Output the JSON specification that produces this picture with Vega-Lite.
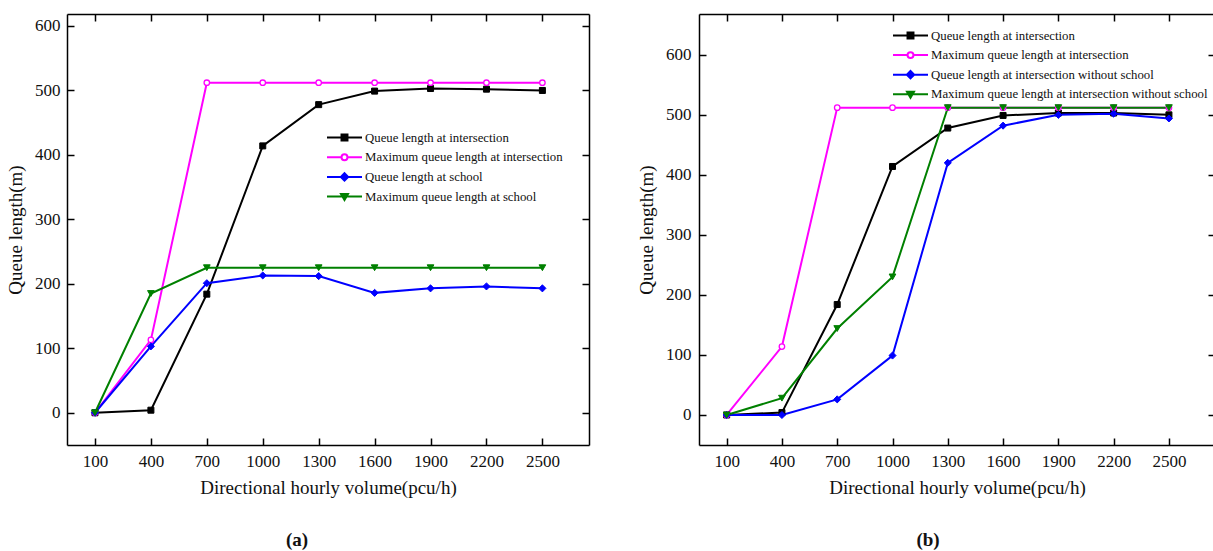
{
  "$schema": "https://vega.github.io/schema/vega-lite/v6.json",
  "padding": {"left": 6, "top": 13, "right": 0, "bottom": 0},
  "background": "white",
  "spacing": 110,
  "bounds": "flush",
  "resolve": {"scale": {"color": "independent"}, "legend": {"color": "independent"}},
  "config": {
    "font": "Liberation Serif",
    "view": {"stroke": null},
    "axis": {
      "domainColor": "black", "domainWidth": 1.5,
      "tickColor": "black", "tickWidth": 1.5, "tickSize": -7,
      "grid": false, "format": "d",
      "labelFont": "Liberation Serif", "labelFontSize": 17, "labelColor": "#111111",
      "titleFont": "Liberation Serif", "titleFontSize": 19, "titleFontWeight": "normal", "titleColor": "#111111"
    },
    "legend": {
      "labelFont": "Liberation Serif", "labelFontSize": 12.8, "labelColor": "#111111", "labelLimit": 0,
      "padding": 0, "labelOffset": 2, "symbolSize": 1225, "symbolStrokeWidth": 2, "clipHeight": 13
    },
    "title": {"font": "Liberation Serif", "fontSize": 19, "color": "#111111"}
  },
  "datasets": {
    "a": [
      {"vol": 100, "len": 0, "series": "Queue length at intersection"},
      {"vol": 400, "len": 4, "series": "Queue length at intersection"},
      {"vol": 700, "len": 184, "series": "Queue length at intersection"},
      {"vol": 1000, "len": 414, "series": "Queue length at intersection"},
      {"vol": 1300, "len": 478, "series": "Queue length at intersection"},
      {"vol": 1600, "len": 499, "series": "Queue length at intersection"},
      {"vol": 1900, "len": 503, "series": "Queue length at intersection"},
      {"vol": 2200, "len": 502, "series": "Queue length at intersection"},
      {"vol": 2500, "len": 500, "series": "Queue length at intersection"},
      {"vol": 100, "len": 0, "series": "Maximum queue length at intersection"},
      {"vol": 400, "len": 113, "series": "Maximum queue length at intersection"},
      {"vol": 700, "len": 512, "series": "Maximum queue length at intersection"},
      {"vol": 1000, "len": 512, "series": "Maximum queue length at intersection"},
      {"vol": 1300, "len": 512, "series": "Maximum queue length at intersection"},
      {"vol": 1600, "len": 512, "series": "Maximum queue length at intersection"},
      {"vol": 1900, "len": 512, "series": "Maximum queue length at intersection"},
      {"vol": 2200, "len": 512, "series": "Maximum queue length at intersection"},
      {"vol": 2500, "len": 512, "series": "Maximum queue length at intersection"},
      {"vol": 100, "len": 0, "series": "Queue length at school"},
      {"vol": 400, "len": 103, "series": "Queue length at school"},
      {"vol": 700, "len": 201, "series": "Queue length at school"},
      {"vol": 1000, "len": 213, "series": "Queue length at school"},
      {"vol": 1300, "len": 212, "series": "Queue length at school"},
      {"vol": 1600, "len": 186, "series": "Queue length at school"},
      {"vol": 1900, "len": 193, "series": "Queue length at school"},
      {"vol": 2200, "len": 196, "series": "Queue length at school"},
      {"vol": 2500, "len": 193, "series": "Queue length at school"},
      {"vol": 100, "len": 0, "series": "Maximum queue length at school"},
      {"vol": 400, "len": 185, "series": "Maximum queue length at school"},
      {"vol": 700, "len": 225, "series": "Maximum queue length at school"},
      {"vol": 1000, "len": 225, "series": "Maximum queue length at school"},
      {"vol": 1300, "len": 225, "series": "Maximum queue length at school"},
      {"vol": 1600, "len": 225, "series": "Maximum queue length at school"},
      {"vol": 1900, "len": 225, "series": "Maximum queue length at school"},
      {"vol": 2200, "len": 225, "series": "Maximum queue length at school"},
      {"vol": 2500, "len": 225, "series": "Maximum queue length at school"}
    ],
    "b": [
      {"vol": 100, "len": 0, "series": "Queue length at intersection"},
      {"vol": 400, "len": 4, "series": "Queue length at intersection"},
      {"vol": 700, "len": 184, "series": "Queue length at intersection"},
      {"vol": 1000, "len": 414, "series": "Queue length at intersection"},
      {"vol": 1300, "len": 478, "series": "Queue length at intersection"},
      {"vol": 1600, "len": 499, "series": "Queue length at intersection"},
      {"vol": 1900, "len": 503, "series": "Queue length at intersection"},
      {"vol": 2200, "len": 503, "series": "Queue length at intersection"},
      {"vol": 2500, "len": 500, "series": "Queue length at intersection"},
      {"vol": 100, "len": 0, "series": "Maximum queue length at intersection"},
      {"vol": 400, "len": 114, "series": "Maximum queue length at intersection"},
      {"vol": 700, "len": 512, "series": "Maximum queue length at intersection"},
      {"vol": 1000, "len": 512, "series": "Maximum queue length at intersection"},
      {"vol": 1300, "len": 512, "series": "Maximum queue length at intersection"},
      {"vol": 1600, "len": 512, "series": "Maximum queue length at intersection"},
      {"vol": 1900, "len": 512, "series": "Maximum queue length at intersection"},
      {"vol": 2200, "len": 512, "series": "Maximum queue length at intersection"},
      {"vol": 2500, "len": 512, "series": "Maximum queue length at intersection"},
      {"vol": 100, "len": 0, "series": "Queue length at intersection without school"},
      {"vol": 400, "len": 0, "series": "Queue length at intersection without school"},
      {"vol": 700, "len": 26, "series": "Queue length at intersection without school"},
      {"vol": 1000, "len": 99, "series": "Queue length at intersection without school"},
      {"vol": 1300, "len": 420, "series": "Queue length at intersection without school"},
      {"vol": 1600, "len": 482, "series": "Queue length at intersection without school"},
      {"vol": 1900, "len": 500, "series": "Queue length at intersection without school"},
      {"vol": 2200, "len": 502, "series": "Queue length at intersection without school"},
      {"vol": 2500, "len": 494, "series": "Queue length at intersection without school"},
      {"vol": 100, "len": 0, "series": "Maximum queue length at intersection without school"},
      {"vol": 400, "len": 28, "series": "Maximum queue length at intersection without school"},
      {"vol": 700, "len": 144, "series": "Maximum queue length at intersection without school"},
      {"vol": 1000, "len": 230, "series": "Maximum queue length at intersection without school"},
      {"vol": 1300, "len": 512, "series": "Maximum queue length at intersection without school"},
      {"vol": 1600, "len": 512, "series": "Maximum queue length at intersection without school"},
      {"vol": 1900, "len": 512, "series": "Maximum queue length at intersection without school"},
      {"vol": 2200, "len": 512, "series": "Maximum queue length at intersection without school"},
      {"vol": 2500, "len": 512, "series": "Maximum queue length at intersection without school"}
    ]
  },
  "hconcat": [
    {
      "width": 522, "height": 431,
      "data": {"name": "a"},
      "title": {"text": "(a)", "orient": "bottom", "offset": 34, "dx": -31, "fontWeight": "bold"},
      "encoding": {
        "x": {"field": "vol", "type": "quantitative", "scale": {"domain": [-50, 2750], "nice": false, "zero": false}, "axis": null},
        "y": {"field": "len", "type": "quantitative", "scale": {"domain": [-50, 618.6], "nice": false, "zero": false}, "axis": null}
      },
      "layer": [
        {
          "mark": {"type": "line", "strokeWidth": 2},
          "encoding": {
            "x": {"field": "vol", "type": "quantitative",
                  "axis": {"orient": "bottom", "values": [100, 400, 700, 1000, 1300, 1600, 1900, 2200, 2500], "title": "Directional hourly volume(pcu/h)", "labelPadding": 15, "titlePadding": 9}},
            "y": {"field": "len", "type": "quantitative",
                  "axis": {"orient": "left", "values": [0, 100, 200, 300, 400, 500, 600], "title": "Queue length(m)", "labelPadding": 14, "titlePadding": 9}},
            "color": {"field": "series", "type": "nominal",
                      "scale": {"domain": ["Queue length at intersection", "Maximum queue length at intersection", "Queue length at school", "Maximum queue length at school"], "range": ["#000000", "#ff00ff", "#0000ff", "#008000"]},
                      "legend": {"orient": "none", "legendX": 259, "legendY": 117, "title": null, "rowPadding": 5.7,
                                 "symbolType": {"expr": "['M-1,0L1,0M-0.17,-0.17L0.17,-0.17L0.17,0.17L-0.17,0.17Z','M-1,0L-0.17,0M0.17,0A0.17,0.17,0,1,1,-0.17,0A0.17,0.17,0,1,1,0.17,0M0.17,0L1,0','M-1,0L1,0M0,-0.21L0.21,0L0,0.21L-0.21,0Z','M-1,0L1,0M-0.2,-0.15L0.2,-0.15L0,0.2Z'][datum.index]"},
                                 "symbolFillColor": {"expr": "['#000000','#ffffff','#0000ff','#008000'][datum.index]"}}}
          }
        },
        {
          "transform": [{"filter": "datum.series == 'Queue length at intersection'"}],
          "mark": {"type": "point", "shape": "square", "size": 36, "filled": true, "fill": "#000000", "stroke": "#000000", "strokeWidth": 1, "opacity": 1}
        },
        {
          "transform": [{"filter": "datum.series == 'Maximum queue length at intersection'"}],
          "mark": {"type": "point", "shape": "circle", "size": 30, "filled": true, "fill": "#ffffff", "stroke": "#ff00ff", "strokeWidth": 1.3, "opacity": 1}
        },
        {
          "transform": [{"filter": "datum.series == 'Queue length at school'"}],
          "mark": {"type": "point", "shape": "diamond", "size": 50, "filled": true, "fill": "#0000ff", "stroke": "#0000ff", "strokeWidth": 1, "opacity": 1}
        },
        {
          "transform": [{"filter": "datum.series == 'Maximum queue length at school'"}],
          "mark": {"type": "point", "shape": "triangle-down", "size": 45, "filled": true, "fill": "#008000", "stroke": "#008000", "strokeWidth": 1, "opacity": 1}
        },
        {
          "mark": {"type": "point", "opacity": 0},
          "encoding": {
            "x": {"field": "vol", "type": "quantitative", "axis": {"orient": "top", "values": [100, 400, 700, 1000, 1300, 1600, 1900, 2200, 2500], "labels": false, "title": null}},
            "y": {"field": "len", "type": "quantitative", "axis": {"orient": "right", "values": [0, 100, 200, 300, 400, 500, 600], "labels": false, "title": null}}
          }
        }
      ],
      "resolve": {"axis": {"x": "independent", "y": "independent"}}
    },
    {
      "width": 516, "height": 431,
      "data": {"name": "b"},
      "title": {"text": "(b)", "orient": "bottom", "offset": 34, "dx": -29, "fontWeight": "bold"},
      "encoding": {
        "x": {"field": "vol", "type": "quantitative", "scale": {"domain": [-50, 2750], "nice": false, "zero": false}, "axis": null},
        "y": {"field": "len", "type": "quantitative", "scale": {"domain": [-50, 668], "nice": false, "zero": false}, "axis": null}
      },
      "layer": [
        {
          "mark": {"type": "line", "strokeWidth": 2},
          "encoding": {
            "x": {"field": "vol", "type": "quantitative",
                  "axis": {"orient": "bottom", "values": [100, 400, 700, 1000, 1300, 1600, 1900, 2200, 2500], "title": "Directional hourly volume(pcu/h)", "labelPadding": 15, "titlePadding": 9}},
            "y": {"field": "len", "type": "quantitative",
                  "axis": {"orient": "left", "values": [0, 100, 200, 300, 400, 500, 600], "title": "Queue length(m)", "labelPadding": 15, "titlePadding": 9}},
            "color": {"field": "series", "type": "nominal",
                      "scale": {"domain": ["Queue length at intersection", "Maximum queue length at intersection", "Queue length at intersection without school", "Maximum queue length at intersection without school"], "range": ["#000000", "#ff00ff", "#0000ff", "#008000"]},
                      "legend": {"orient": "none", "legendX": 193, "legendY": 15, "title": null, "rowPadding": 5.6,
                                 "symbolType": {"expr": "['M-1,0L1,0M-0.17,-0.17L0.17,-0.17L0.17,0.17L-0.17,0.17Z','M-1,0L-0.17,0M0.17,0A0.17,0.17,0,1,1,-0.17,0A0.17,0.17,0,1,1,0.17,0M0.17,0L1,0','M-1,0L1,0M0,-0.21L0.21,0L0,0.21L-0.21,0Z','M-1,0L1,0M-0.2,-0.15L0.2,-0.15L0,0.2Z'][datum.index]"},
                                 "symbolFillColor": {"expr": "['#000000','#ffffff','#0000ff','#008000'][datum.index]"}}}
          }
        },
        {
          "transform": [{"filter": "datum.series == 'Queue length at intersection'"}],
          "mark": {"type": "point", "shape": "square", "size": 36, "filled": true, "fill": "#000000", "stroke": "#000000", "strokeWidth": 1, "opacity": 1}
        },
        {
          "transform": [{"filter": "datum.series == 'Maximum queue length at intersection'"}],
          "mark": {"type": "point", "shape": "circle", "size": 30, "filled": true, "fill": "#ffffff", "stroke": "#ff00ff", "strokeWidth": 1.3, "opacity": 1}
        },
        {
          "transform": [{"filter": "datum.series == 'Queue length at intersection without school'"}],
          "mark": {"type": "point", "shape": "diamond", "size": 50, "filled": true, "fill": "#0000ff", "stroke": "#0000ff", "strokeWidth": 1, "opacity": 1}
        },
        {
          "transform": [{"filter": "datum.series == 'Maximum queue length at intersection without school'"}],
          "mark": {"type": "point", "shape": "triangle-down", "size": 45, "filled": true, "fill": "#008000", "stroke": "#008000", "strokeWidth": 1, "opacity": 1}
        },
        {
          "mark": {"type": "point", "opacity": 0},
          "encoding": {
            "x": {"field": "vol", "type": "quantitative", "axis": {"orient": "top", "values": [100, 400, 700, 1000, 1300, 1600, 1900, 2200, 2500], "labels": false, "title": null}},
            "y": {"field": "len", "type": "quantitative", "axis": {"orient": "right", "values": [0, 100, 200, 300, 400, 500, 600], "labels": false, "title": null}}
          }
        }
      ],
      "resolve": {"axis": {"x": "independent", "y": "independent"}}
    }
  ]
}
